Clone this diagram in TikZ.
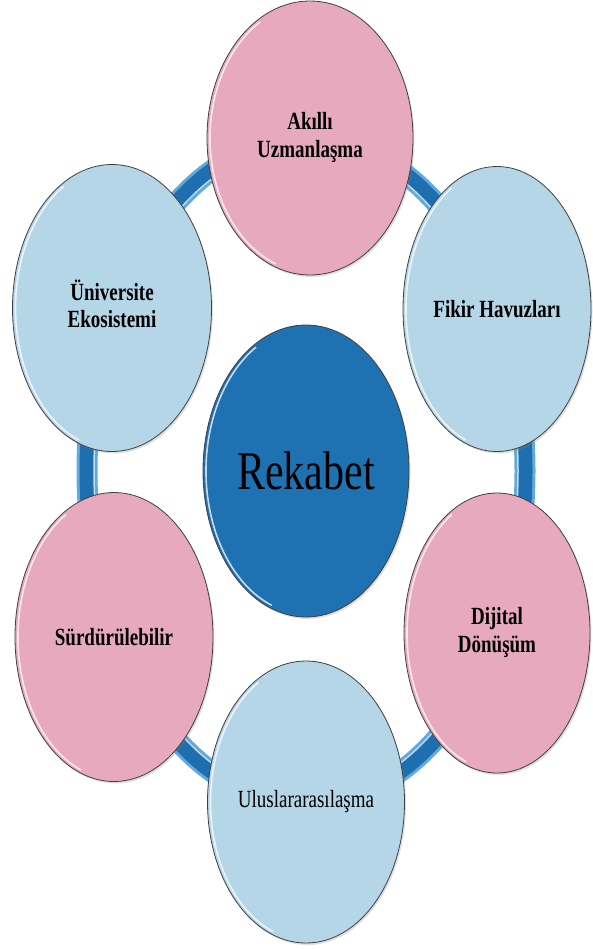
\documentclass[tikz,border=0pt]{standalone}
\usepackage{fontspec}
\usepackage{graphicx}
\setmainfont{Liberation Serif}
\usetikzlibrary{shapes.geometric,shadows}
\definecolor{pinkf}{HTML}{E7A9BD}
\definecolor{lbluef}{HTML}{B4D6E7}
\definecolor{dbluef}{HTML}{1F72B2}
\definecolor{ringedge}{HTML}{62AADC}
\definecolor{ringmid}{HTML}{1E6FB0}
\newcommand{\stretchtxt}[1]{\scalebox{1}[1.3]{#1}}
\newcommand{\twolines}[2]{\stretchtxt{\begin{tabular}{@{}c@{}}#1\\#2\end{tabular}}}
\tikzset{
  bubble/.style={ellipse, draw=black!75, line width=0.8pt, inner sep=0pt,
    font=\fontsize{19}{21}\selectfont\bfseries,
    drop shadow={opacity=0.25, shadow xshift=1.5pt, shadow yshift=-2pt}},
  pinkb/.style={bubble, fill=pinkf},
  blueb/.style={bubble, fill=lbluef},
  hilite/.style={white, opacity=0.75, line width=1.6pt},
  ringouter/.style={ringedge, line width=21pt},
  ringinner/.style={ringmid, line width=15pt},
  ringshine/.style={white!60!ringedge, line width=1.5pt}
}
\begin{document}
\begin{tikzpicture}[x=1pt,y=-1pt]
\useasboundingbox (0,0) rectangle (593,949);
% centre node
\node[bubble, fill=dbluef, minimum width=206pt, minimum height=292pt,
      font=\fontsize{42}{44}\selectfont] (rek) at (306,471) {\stretchtxt{Rekabet}};
% ring behind outer ellipses
\draw[ringouter] (rek.center) ellipse [x radius=219, y radius=333];
\draw[ringinner] (rek.center) ellipse [x radius=219, y radius=333];
\draw[ringshine] (rek.center) ellipse [x radius=212, y radius=326];
% outer ellipses
\node[pinkb, minimum width=206pt, minimum height=274pt] (aki) at (310,138) {\twolines{Akıllı}{Uzmanlaşma}};
\node[blueb, minimum width=188pt, minimum height=285pt] (fik) at (497,309) {\stretchtxt{Fikir Havuzları}};
\node[blueb, minimum width=199pt, minimum height=287pt] (uni) at (112,308) {\twolines{Üniversite}{Ekosistemi}};
\node[pinkb, minimum width=186pt, minimum height=280pt] (dij) at (497,633) {\twolines{Dijital}{Dönüşüm}};
\node[pinkb, minimum width=198pt, minimum height=289pt] (sur) at (114,637) {\stretchtxt{Sürdürülebilir}};
\node[blueb, minimum width=197pt, minimum height=282pt, font=\fontsize{19}{21}\selectfont] (ulu) at (306,802) {\stretchtxt{Uluslararasılaşma}};
% bevel highlights
\foreach \n/\rx/\ry in {rek/103/146, aki/103/137, fik/94/142.5, uni/99.5/143.5, dij/93/140, sur/99/144.5, ulu/98.5/141}{
  \draw[hilite] (\n.center) ++(110:{\rx-3} and {\ry-3}) arc[start angle=110, end angle=240, x radius=\rx-3, y radius=\ry-3];
}
\end{tikzpicture}
\end{document}
